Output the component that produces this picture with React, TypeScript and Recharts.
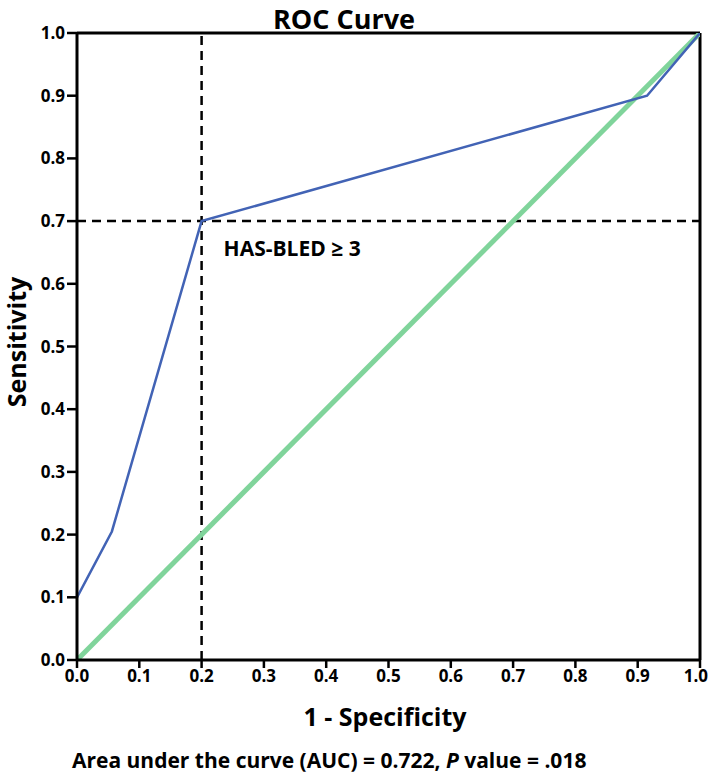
import React from "react";
import {
  LineChart,
  Line,
  XAxis,
  YAxis,
  ReferenceLine,
  ReferenceDot,
} from "recharts";

// ROC points (1 - specificity, sensitivity)
const rocX = [0, 0.056, 0.2, 0.915, 1.0];
const rocY = [0.1, 0.205, 0.7, 0.9, 1.0];
const refX = [0, 1];
const refY = [0, 1];
const ticks = [0, 0.1, 0.2, 0.3, 0.4, 0.5, 0.6, 0.7, 0.8, 0.9, 1.0];
const cutX = 0.2;
const cutY = 0.7;

const rocData = rocX.map((x, i) => ({ x, y: rocY[i] }));
const refData = refX.map((x, i) => ({ x, y: refY[i] }));

const FONT = "'Open Sans', sans-serif";
const tickStyle = { fill: "#000", fontSize: 17, fontWeight: 700, fontFamily: FONT };

// x tick: last label nudged in so it stays on the page
const XTick = (props: any) => {
  const { x, y, payload } = props;
  const last = payload.value >= 1;
  return (
    <text
      x={last ? x + 8 : x}
      y={y + 12}
      textAnchor={last ? "end" : "middle"}
      {...tickStyle}
    >
      {Number(payload.value).toFixed(1)}
    </text>
  );
};

export default function App() {
  return (
    <div style={{ position: "absolute", left: 0, top: 0, width: 709, height: 773, background: "#fff" }}>
      <div
        style={{
          position: "absolute",
          left: 0,
          width: 688,
          top: 0,
          lineHeight: "37px",
          textAlign: "center",
          fontFamily: FONT,
          fontWeight: 700,
          fontSize: 27,
        }}
      >
        ROC Curve
      </div>
      <LineChart
        width={709}
        height={773}
        margin={{ top: 33, right: 9, left: 17, bottom: 83 }}
      >
        <XAxis
          dataKey="x"
          type="number"
          domain={[0, 1]}
          ticks={ticks}
          tick={<XTick />}
          tickSize={8}
          axisLine={{ stroke: "#000", strokeWidth: 3 }}
          tickLine={{ stroke: "#000", strokeWidth: 2.5 }}
          height={30}
          allowDataOverflow
        />
        <YAxis
          dataKey="y"
          type="number"
          domain={[0, 1]}
          ticks={ticks}
          tickFormatter={(v: number) => v.toFixed(1)}
          tick={tickStyle}
          tickSize={10}
          axisLine={{ stroke: "#000", strokeWidth: 3 }}
          tickLine={{ stroke: "#000", strokeWidth: 2.5 }}
          width={60}
          allowDataOverflow
        />
        <ReferenceLine y={1} stroke="#000" strokeWidth={3} />
        <ReferenceLine x={1} stroke="#000" strokeWidth={3} />
        <ReferenceLine x={cutX} stroke="#000" strokeWidth={2.5} strokeDasharray="9 6" />
        <ReferenceLine y={cutY} stroke="#000" strokeWidth={2.5} strokeDasharray="9 6" />
        <Line
          data={refData}
          dataKey="y"
          type="linear"
          stroke="#80d49b"
          strokeWidth={5}
          dot={false}
          isAnimationActive={false}
        />
        <Line
          data={rocData}
          dataKey="y"
          type="linear"
          stroke="#4263b5"
          strokeWidth={2.5}
          dot={false}
          isAnimationActive={false}
        />
        <ReferenceDot
          x={cutX}
          y={cutY}
          r={0}
          fill="none"
          stroke="none"
          label={{
            value: "HAS-BLED ≥ 3",
            position: "right",
            offset: 22,
            dy: 27,
            fill: "#000",
            fontSize: 21,
            fontWeight: 700,
            fontFamily: FONT,
          }}
        />
      </LineChart>
      <div
        style={{
          position: "absolute",
          left: 385 - 150,
          width: 300,
          top: 699,
          textAlign: "center",
          fontFamily: FONT,
          fontWeight: 700,
          fontSize: 25,
        }}
      >
        1 - Specificity
      </div>
      <div
        style={{
          position: "absolute",
          left: 16 - 150,
          top: 343 - 18,
          width: 300,
          textAlign: "center",
          transform: "rotate(-90deg)",
          fontFamily: FONT,
          fontWeight: 700,
          fontSize: 25,
        }}
      >
        Sensitivity
      </div>
      <div
        style={{
          position: "absolute",
          left: 72,
          top: 746,
          whiteSpace: "nowrap",
          fontFamily: FONT,
          fontWeight: 700,
          fontSize: 21,
        }}
      >
        Area under the curve (AUC) = 0.722, <i>P</i> value = .018
      </div>
    </div>
  );
}
